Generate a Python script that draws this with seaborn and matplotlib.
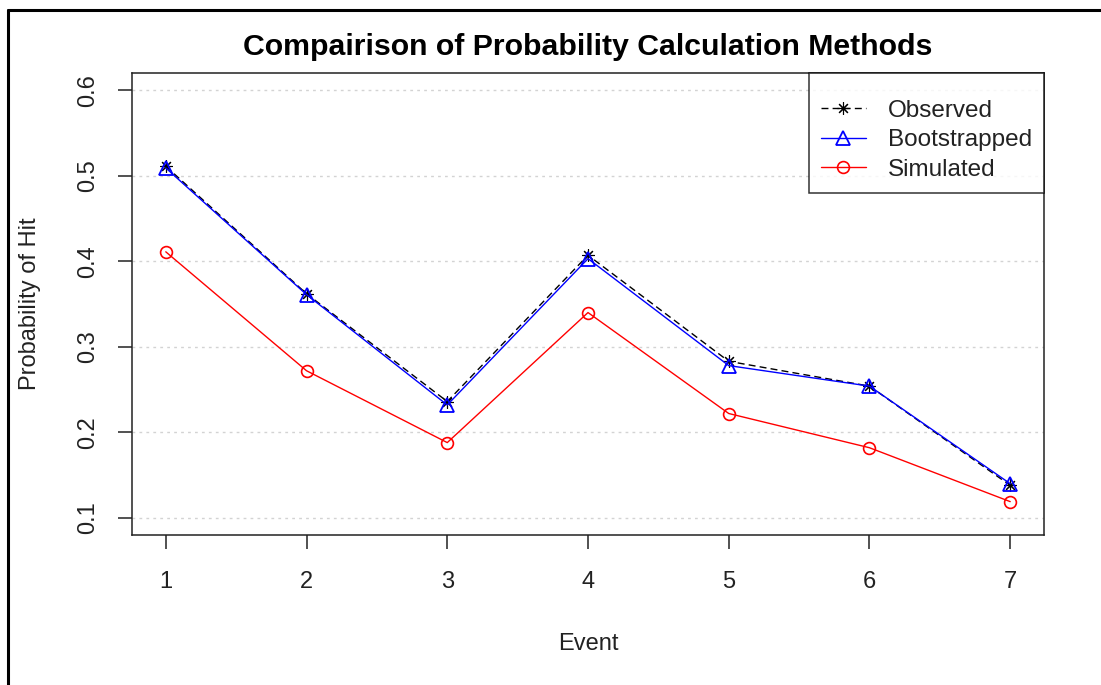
import matplotlib
matplotlib.use("Agg")
import matplotlib.pyplot as plt
from matplotlib.lines import Line2D
import seaborn as sns
import pandas as pd

events = [1, 2, 3, 4, 5, 6, 7]
observed = [0.511, 0.362, 0.236, 0.407, 0.283, 0.254, 0.138]
bootstrapped = [0.509, 0.361, 0.232, 0.403, 0.278, 0.254, 0.140]
simulated = [0.411, 0.272, 0.188, 0.340, 0.222, 0.182, 0.119]
series_names = ["Observed", "Bootstrapped", "Simulated"]
yticks = [0.1, 0.2, 0.3, 0.4, 0.5, 0.6]

sns.set_theme(style="white")
plt.rcParams["font.family"] = ["Liberation Sans", "DejaVu Sans"]

df = pd.DataFrame({
    "Event": events * 3,
    "Prob": observed + bootstrapped + simulated,
    "Method": [s for s in series_names for _ in events],
})

fig = plt.figure(figsize=(11.01, 6.85), dpi=100)
ax = fig.add_axes([132 / 1101, 1 - 535 / 685, (1044 - 132) / 1101, (535 - 73) / 685])

styles = {
    "Observed": dict(color="black", marker=(8, 2, 0), dashes=(5, 3), mfc="none", ms=9, mew=0.8),
    "Bootstrapped": dict(color="#0000FF", marker="^", dashes=(None, None), mfc="none", ms=10, mew=1.3),
    "Simulated": dict(color="#FF0000", marker="o", dashes=(None, None), mfc="none", ms=8.5, mew=1.2),
}

for name in series_names:
    st = styles[name]
    sub = df[df["Method"] == name]
    kw = dict(x="Event", y="Prob", data=sub, ax=ax, color=st["color"], marker=st["marker"],
              markerfacecolor=st["mfc"], markeredgecolor=st["color"], markersize=st["ms"],
              markeredgewidth=st["mew"], linewidth=1.0, label=name)
    if st["dashes"][0] is not None:
        kw["dashes"] = st["dashes"]
    sns.lineplot(**kw)

ax.set_xlim(0.76, 7.24)
ax.set_ylim(0.08, 0.62)
ax.set_xticks(events)
ax.set_xticklabels([str(e) for e in events])
ax.set_yticks(yticks)
ax.set_yticklabels([f"{v:.1f}" for v in yticks])
ax.yaxis.grid(True, color="#D3D3D3", linestyle=(0, (2, 3)), linewidth=1.0)
ax.xaxis.grid(False)
ax.set_axisbelow(True)

for sp in ax.spines.values():
    sp.set_visible(True)
    sp.set_color("#222222")
    sp.set_linewidth(1.1)

ax.tick_params(axis="both", direction="out", length=10, width=1.1, color="#222222",
               labelsize=17, labelcolor="#222222", bottom=True, left=True)
ax.tick_params(axis="x", pad=16)
ax.tick_params(axis="y", pad=14)
for lab in ax.get_yticklabels():
    lab.set_rotation(90)
    lab.set_va("center")
    lab.set_ha("right")

ax.set_xlabel("Event", fontsize=17, color="#222222")
ax.set_ylabel("Probability of Hit", fontsize=17, color="#222222")
ax.xaxis.set_label_coords(0.5, -(633 - 535) / 462)
ax.yaxis.set_label_coords(-(132 - 41) / 912, 0.5)

ax.set_title("Compairison of Probability Calculation Methods", fontsize=21.8,
             fontweight="bold", color="black", pad=13)

leg = ax.legend(loc="upper right", borderaxespad=0, frameon=True, fancybox=False,
                fontsize=17.5, handlelength=1.85, handletextpad=0.9, labelspacing=0.31,
                borderpad=0.5, title=" ", title_fontsize=6)
leg.get_frame().set_edgecolor("black")
leg.get_frame().set_linewidth(1.1)
for t in leg.get_texts():
    t.set_color("#222222")

fig.add_artist(Line2D([8 / 1101, 1.0], [1 - 10 / 685, 1 - 10 / 685], color="black", linewidth=2.2,
                      transform=fig.transFigure))
fig.add_artist(Line2D([8 / 1101, 8 / 1101], [1 - 10 / 685, 0.0], color="black", linewidth=2.2,
                      transform=fig.transFigure))

fig.savefig("out.png", dpi=100, facecolor="white")
